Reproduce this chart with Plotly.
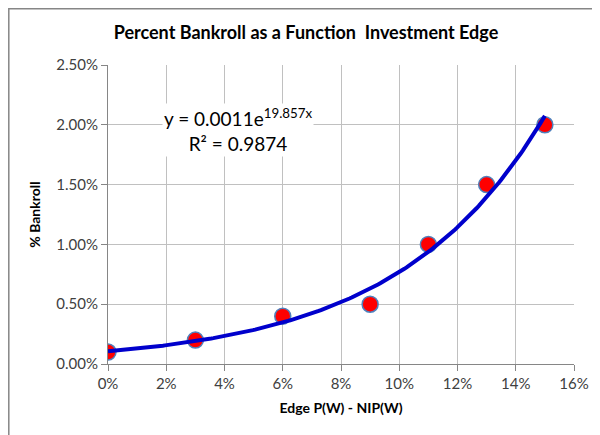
import numpy as np
import plotly.graph_objects as go

edge = [0.00, 0.03, 0.06, 0.09, 0.11, 0.13, 0.15]
bankroll = [0.001, 0.002, 0.004, 0.005, 0.010, 0.015, 0.020]
x_ticks = [0, 0.02, 0.04, 0.06, 0.08, 0.10, 0.12, 0.14, 0.16]
y_ticks = [0, 0.005, 0.010, 0.015, 0.020, 0.025]
title = "Percent Bankroll as a Function  Investment Edge"
eq_text = "y = 0.0011e<sup>19.857x</sup><br>R² = 0.9874"

# exponential trendline fitted from the data (least squares on log)
b, ln_a = np.polyfit(edge, np.log(bankroll), 1)
tx = np.linspace(min(edge), max(edge), 200)
ty = np.exp(ln_a) * np.exp(b * tx)

fig = go.Figure()
fig.add_trace(go.Scatter(x=edge, y=bankroll, mode="markers",
                         marker=dict(color="#FF0000", size=16,
                                     line=dict(color="#4F81BD", width=1.5)),
                         showlegend=False))
fig.add_trace(go.Scatter(x=tx, y=ty, mode="lines",
                         line=dict(color="#0000CC", width=4),
                         showlegend=False))

# page body has an 8px margin, so work in figure coordinates offset by 8
OFF = 8
W, H = 600 - OFF, 435 - OFF
L, R, T, B = 108 - OFF, 574 - OFF, 65 - OFF, 364 - OFF
fig.update_layout(
    width=W, height=H,
    margin=dict(l=L, r=W - R, t=T, b=H - B, autoexpand=False),
    paper_bgcolor="white", plot_bgcolor="white",
    font=dict(family="Lato, Open Sans, sans-serif", color="#404040", size=15),
    title=dict(text="<b>" + title + "</b>", x=(306 - OFF) / W, xanchor="center",
               y=1 - (33 - OFF) / H, yanchor="middle",
               font=dict(size=18, color="#000000")),
)
fig.update_xaxes(range=[0, 0.16], tickvals=x_ticks, tickformat=".0%",
                 showgrid=True, gridcolor="#C0C0C0", gridwidth=1,
                 showline=True, linecolor="#868686", linewidth=1,
                 ticks="outside", ticklen=6, tickcolor="#868686",
                 zeroline=False, automargin=False,
                 title=dict(text="<b>Edge P(W) - NIP(W)</b>",
                            font=dict(size=14, color="#000000"), standoff=12))
fig.update_yaxes(range=[0, 0.025], tickvals=y_ticks, tickformat=".2%",
                 showgrid=True, gridcolor="#C0C0C0", gridwidth=1,
                 showline=True, linecolor="#868686", linewidth=1,
                 ticks="outside", ticklen=6, tickcolor="#868686",
                 zeroline=False, automargin=False,
                 title=dict(text="<b>% Bankroll</b>",
                            font=dict(size=14, color="#000000"), standoff=12))

pw, ph = R - L, B - T
fig.add_annotation(text=eq_text, xref="paper", yref="paper",
                   x=(238 - OFF - L) / pw, y=(B - (130 - OFF)) / ph,
                   xanchor="center", yanchor="middle", showarrow=False,
                   align="center", bgcolor="white",
                   font=dict(size=19, color="#000000"))

fig.add_shape(type="rect", xref="paper", yref="paper",
              x0=(0.8 - L) / pw, x1=(W + 20 - L) / pw,
              y0=(B - (H + 20)) / ph, y1=(B - 0.8) / ph,
              line=dict(color="#868686", width=1.5), layer="below")

fig.write_html("out.html")
